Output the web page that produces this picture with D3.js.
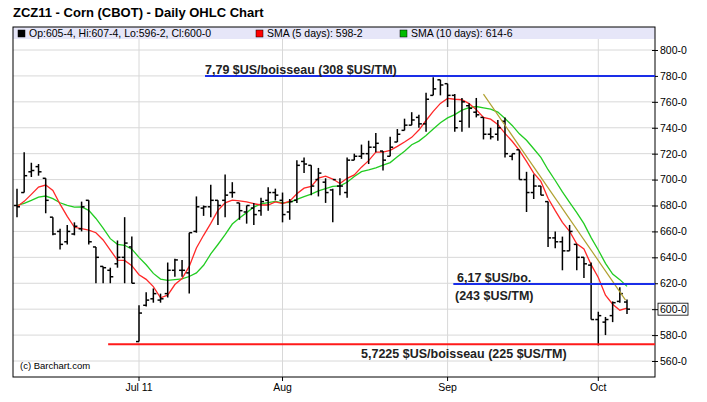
<!DOCTYPE html>
<html><head><meta charset="utf-8">
<script src="https://cdn.jsdelivr.net/npm/d3@7"></script>
<style>body{margin:0;background:#fff}</style>
</head><body>
<svg id="chart" width="707" height="402"></svg>
<script>
// daily bars [open, high, low, close]
const bars = [
  [680,693,671,679],[690,721,690,703],[706,713,702,707],[710,712,703,706],[701,701,674,684],
  [671,671,657,658],[660,662,646,650],[652,665,650,660],[658,667,657,664],[662,683,660,679],
  [684,684,650,652],[648,648,620,640],[633,633,620,632],[630,632,620,625],[635,653,632,640],
  [640,671,620,651],[648,656,620,620],[575,603,575,597],[603,613,602,607],[608,616,605,612],
  [607,612,605,608],[612,636,609,630],[630,639,625,638],[630,638,625,630],[628,659,612,659],
  [660,687,659,679],[678,680,672,679],[679,696,671,684],[684,684,665,680],[684,704,671,688],
  [690,698,686,690],[682,682,669,676],[675,680,666,680],[678,682,665,673],[676,686,672,683],
  [684,694,676,690],[690,693,684,688],[684,690,667,673],[675,685,669,683],[684,715,682,711],
  [714,717,705,712],[711,711,688,695],[700,709,687,705],[698,701,682,690],[692,693,667,700],
  [695,701,688,695],[690,717,686,715],[715,720,715,718],[718,727,716,720],[720,730,712,725],
  [725,736,721,728],[722,722,707,715],[718,733,718,725],[729,739,729,735],[738,747,738,742],
  [742,752,742,746],[748,750,740,743],[743,767,737,762],[765,779,765,770],[777,777,765,773],
  [774,774,756,765],[765,766,737,740],[745,763,737,760],[757,759,740,755],[752,763,748,750],
  [748,748,731,735],[735,740,731,733],[735,746,730,740],[745,748,717,720],[718,720,715,720],
  [723,723,700,700],[700,706,675,690],[690,704,685,695],[695,695,688,688],[683,683,648,655],
  [655,660,647,652],[652,656,630,645],[645,665,645,660],[650,650,630,640],[640,640,624,635],
  [634,636,592,592],[592,598,572,595],[590,594,580,592],[595,606,590,605],[606,617,605,612],
  [605.5,607.5,596.25,600]
];
// closes before the first visible bar (for the moving averages)
const priorCloses = [688,684,680,676,678,682,680,678,676];
const monthTicks = [[17,"Jul 11"],[37,"Aug"],[60,"Sep"],[81,"Oct"]];
const priceTicks = [560,580,600,620,640,660,680,700,720,740,760,780,800];
// annotations: [start index, price, color]
const levels = [[26.2,780,"#1a2ee8"],[60.8,619.5,"#1a2ee8"],[12.7,573,"#ff1a1a"]];
const trend = [[65,766],[84.8,607]];

const L = 13, R = 655, T = 27, B = 377;
const svg = d3.select("#chart");
const x = d3.scaleLinear().domain([0, bars.length - 1]).range([17, 627]);
const y = d3.scaleLinear().domain([560, 800]).range([361, 50]);
const fmt = v => Math.floor(v) + "-" + Math.round((v % 1) * 8);

svg.append("text").attr("x", 13).attr("y", 17).attr("font-family", "Liberation Sans, Arial")
  .attr("font-weight", "bold").attr("font-size", 13).text("ZCZ11 - Corn (CBOT) - Daily OHLC Chart");

// grid
svg.append("g").selectAll("line").data(priceTicks).join("line")
  .attr("x1", L).attr("x2", R).attr("y1", d => y(d)).attr("y2", d => y(d))
  .attr("stroke", "#d8d8d8");
svg.append("g").selectAll("line").data(monthTicks).join("line")
  .attr("x1", d => x(d[0])).attr("x2", d => x(d[0])).attr("y1", T).attr("y2", B)
  .attr("stroke", "#d8d8d8");

// legend strip
svg.append("rect").attr("x", L).attr("y", T).attr("width", R - L).attr("height", 12).attr("fill", "#e6e6f8");
const leg = [["#000", "Op:605-4, Hi:607-4, Lo:596-2, Cl:600-0", 18],
             ["#ff0000", "SMA (5 days): 598-2", 256], ["#00bb00", "SMA (10 days): 614-6", 400]];
leg.forEach(([c, t, lx]) => {
  svg.append("rect").attr("x", lx).attr("y", T + 3).attr("width", 7).attr("height", 7).attr("fill", c).attr("stroke", "#000").attr("stroke-width", 0.5);
  svg.append("text").attr("x", lx + 11).attr("y", T + 10).attr("font-family", "Liberation Sans, Arial")
    .attr("font-size", 10.5).text(t);
});

// frame
svg.append("rect").attr("x", L).attr("y", T).attr("width", R - L).attr("height", B - T)
  .attr("fill", "none").attr("stroke", "#000");

// right axis
const ya = svg.append("g").attr("transform", `translate(${R},0)`)
  .call(d3.axisRight(y).tickValues(priceTicks).tickSize(3).tickFormat(d => d + "-0"));
ya.select(".domain").remove();
ya.selectAll("line").attr("x1", -3).attr("x2", 3);
ya.selectAll("text").attr("font-family", "Liberation Sans, Arial").attr("font-size", 10.5).attr("fill", "#000").attr("x", 5);
svg.append("rect").attr("x", R + 3).attr("y", y(600) - 6).attr("width", 30).attr("height", 12)
  .attr("fill", "none").attr("stroke", "#000").attr("stroke-width", 0.8);

// bottom axis labels
svg.append("g").selectAll("text").data(monthTicks).join("text")
  .attr("x", d => x(d[0])).attr("y", 391).attr("text-anchor", "middle")
  .attr("font-family", "Liberation Sans, Arial").attr("font-size", 10.5).text(d => d[1]);
svg.append("g").selectAll("line").data(monthTicks).join("line")
  .attr("x1", d => x(d[0])).attr("x2", d => x(d[0])).attr("y1", B).attr("y2", B + 4).attr("stroke", "#000");

svg.append("text").attr("x", 20).attr("y", 369).attr("font-family", "Liberation Sans, Arial")
  .attr("font-size", 9.5).text("(c) Barchart.com");

// moving averages
const closes = priorCloses.concat(bars.map(b => b[3]));
const sma = n => bars.map((b, i) => {
  const k = i + priorCloses.length;
  return d3.mean(closes.slice(Math.max(0, k - n + 1), k + 1));
});
const line = d3.line().x((d, i) => x(i)).y(d => y(d));
svg.append("path").attr("d", line(sma(10))).attr("fill", "none").attr("stroke", "#22cc22").attr("stroke-width", 1.3);
svg.append("path").attr("d", line(sma(5))).attr("fill", "none").attr("stroke", "#ff2828").attr("stroke-width", 1.3);

// OHLC bars
const g = svg.append("g").attr("stroke", "#000").attr("stroke-width", 1.5);
bars.forEach((b, i) => {
  const cx = x(i);
  g.append("line").attr("x1", cx).attr("x2", cx).attr("y1", y(b[1])).attr("y2", y(b[2]));
  g.append("line").attr("x1", cx - 3).attr("x2", cx).attr("y1", y(b[0])).attr("y2", y(b[0]));
  g.append("line").attr("x1", cx).attr("x2", cx + 3).attr("y1", y(b[3])).attr("y2", y(b[3]));
});

// trendline and levels
svg.append("line").attr("x1", x(trend[0][0])).attr("y1", y(trend[0][1]))
  .attr("x2", x(trend[1][0])).attr("y2", y(trend[1][1])).attr("stroke", "#b0a030").attr("stroke-width", 1.2);
levels.forEach(([i0, p, c]) => {
  svg.append("line").attr("x1", x(i0)).attr("x2", R).attr("y1", y(p)).attr("y2", y(p))
    .attr("stroke", c).attr("stroke-width", 2);
});
const note = (tx, ty, t) => svg.append("text").attr("x", tx).attr("y", ty)
  .attr("font-family", "Liberation Sans, Arial").attr("font-weight", "bold").attr("font-size", 12.5)
  .attr("fill", "#222").text(t);
note(205, 74, "7,79 $US/boisseau (308 $US/TM)");
note(457, 282, "6,17 $US/bo.");
note(455, 300, "(243 $US/TM)");
note(361, 358, "5,7225 $US/boisseau (225 $US/TM)");
</script>
</body></html>
